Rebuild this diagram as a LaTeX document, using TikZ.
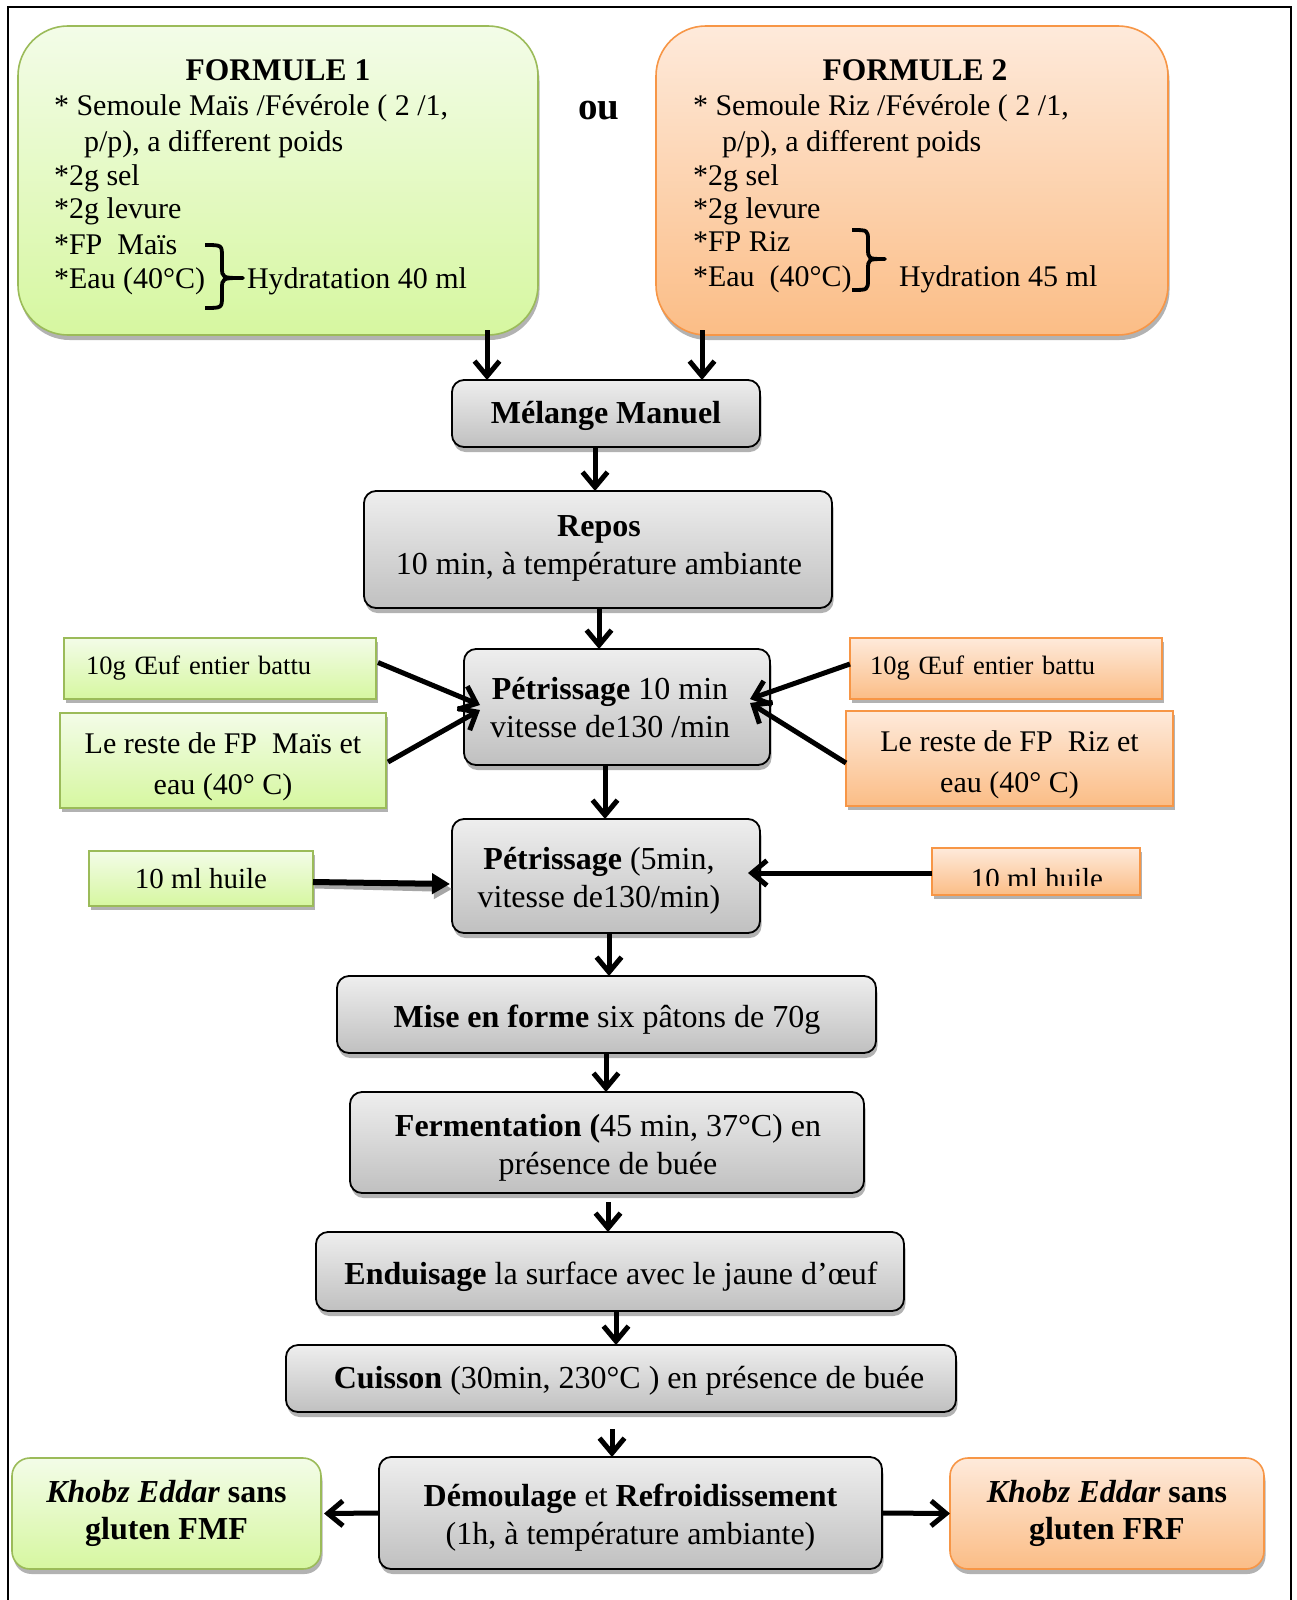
\documentclass[tikz,border=0pt]{standalone}
\usepackage{fontspec}
\setmainfont{Liberation Serif}
\usetikzlibrary{arrows.meta,shadows,calc}

\definecolor{grnTop}{HTML}{F3FCE8}
\definecolor{grnBot}{HTML}{D6F7A0}
\definecolor{grnLine}{HTML}{9BBB59}
\definecolor{orgTop}{HTML}{FEEADB}
\definecolor{orgBot}{HTML}{FBBD86}
\definecolor{orgLine}{HTML}{F79646}
\definecolor{gryTop}{HTML}{EEEEEE}
\definecolor{gryBot}{HTML}{C0C0C0}

\begin{document}
\begin{tikzpicture}[x=1pt,y=-1pt,
  every node/.style={inner sep=0pt, outer sep=0pt},
  softshadow/.style={drop shadow={shadow xshift=1.5pt, shadow yshift=-5pt, opacity=0.3, fill=black}},
  formbox/.style={line width=1.6pt, rounded corners=50pt, softshadow},
  grnform/.style={formbox, draw=grnLine, top color=grnTop, bottom color=grnBot},
  orgform/.style={formbox, draw=orgLine, top color=orgTop, bottom color=orgBot},
  ftxt/.style={font=\fontsize{30}{35}\selectfont, anchor=mid west},
  ttl/.style={font=\fontsize{31.5}{36}\selectfont\bfseries},
  proc/.style={draw=black, line width=1.8pt, rounded corners=12pt, top color=gryTop, bottom color=gryBot, softshadow},
  ptxt/.style={font=\fontsize{32}{38}\selectfont, align=center},
  sidebox/.style={line width=1.6pt, drop shadow={shadow xshift=1.5pt, shadow yshift=-4pt, opacity=0.3, fill=black}},
  grnside/.style={sidebox, draw=grnLine, top color=grnTop, bottom color=grnBot},
  orgside/.style={sidebox, draw=orgLine, top color=orgTop, bottom color=orgBot},
  rtxt/.style={font=\fontsize{30}{41}\selectfont, align=center},
  endbox/.style={line width=1.6pt, rounded corners=18pt, softshadow, font=\fontsize{32}{37}\selectfont, align=center},
  arr/.style={line width=5pt, -{Straight Barb[length=15pt,width=25pt]}},
  bracestroke/.style={line width=3.8pt, line join=round}
]
% page and frame
\fill[white] (0,0) rectangle (1297,1600);
\useasboundingbox (0,0) rectangle (1297,1600);
\draw[line width=2pt] (8,1610) -- (8,7) -- (1291,7) -- (1291,1610);

% ---------- the two formulas ----------
\node[grnform, minimum width=520pt, minimum height=309pt] (f1) at (278,180.5) {};
\node[ttl] (f1t) at (278,70) {FORMULE 1};
\node[ftxt] (f1a) at (54,113) {* Semoule Maïs /Févérole ( 2 /1,};
\node[ftxt] (f1b) at (84,149) {p/p), a different poids};
\node[ftxt] (f1c) at (54,183) {*2g sel};
\node[ftxt] (f1d) at (54,216) {*2g levure};
\node[ftxt] (f1e) at (54,252) {*FP\ \ Maïs};
\node[ftxt] (f1f) at (54,286) {*Eau (40°C)};
\node[ftxt] (f1h) at (247,286) {Hydratation 40 ml};
\draw[bracestroke] (205,245) .. controls (222,245) .. (222,257) -- (222,267)
  .. controls (222,278) .. (243,278) .. controls (222,278) .. (222,289)
  -- (222,296) .. controls (222,308) .. (205,308);

\node[font=\fontsize{39}{40}\selectfont\bfseries] (ou) at (599,111) {ou};

\node[orgform, minimum width=512pt, minimum height=309pt] (f2) at (912,180.5) {};
\node[ttl] (f2t) at (915,70) {FORMULE 2};
\node[ftxt] (f2a) at (693,113) {* Semoule Riz /Févérole ( 2 /1,};
\node[ftxt] (f2b) at (722,149) {p/p), a different poids};
\node[ftxt] (f2c) at (693,183) {*2g sel};
\node[ftxt] (f2d) at (693,216) {*2g levure};
\node[ftxt] (f2e) at (693,249) {*FP Riz};
\node[ftxt] (f2f) at (693,284) {*Eau\ \ (40°C)};
\node[ftxt] (f2h) at (899,284) {Hydration 45 ml};
\draw[bracestroke] (852,230) .. controls (868,230) .. (868,241) -- (868,248)
  .. controls (868,259) .. (885,259) .. controls (868,259) .. (868,270)
  -- (868,279) .. controls (868,290) .. (852,290);

% ---------- main process ----------
\node[proc, minimum width=308pt, minimum height=67pt] (mel) at (606,413.5) {};
\node[ptxt] (melt) at (606,415.5) {\textbf{Mélange Manuel}};
\node[proc, minimum width=468pt, minimum height=117pt] (rep) at (598,549.5) {};
\node[ptxt] (rept) at (599,548) {\textbf{Repos}\\10 min, à température ambiante};
\node[proc, minimum width=306pt, minimum height=116pt] (pet1) at (617,707) {};
\node[ptxt] (pet1t) at (610,708) {\textbf{Pétrissage} 10 min\\vitesse de130 /min};
\node[proc, minimum width=308pt, minimum height=114pt] (pet2) at (606,876) {};
\node[ptxt] (pet2t) at (599,881) {\textbf{Pétrissage} (5min,\\vitesse de130/min)};
\node[proc, minimum width=539pt, minimum height=77pt] (mise) at (606.5,1014.5) {};
\node[ptxt] (miset) at (607,1020) {\textbf{Mise en forme} six pâtons de 70g};
\node[proc, minimum width=514pt, minimum height=101pt] (ferm) at (607,1142.5) {};
\node[ptxt] (fermt) at (608,1147.5) {\textbf{Fermentation (}45 min, 37°C) en\\présence de buée};
\node[proc, minimum width=588pt, minimum height=79pt] (endu) at (610,1271.5) {};
\node[ptxt] (endut) at (611,1276.5) {\textbf{Enduisage} la surface avec le jaune d’œuf};
\node[proc, minimum width=670pt, minimum height=67pt] (cuis) at (621,1378.5) {};
\node[ptxt] (cuist) at (629,1381) {\textbf{Cuisson} (30min, 230°C ) en présence de buée};
\node[proc, minimum width=503pt, minimum height=112pt] (dem) at (630.5,1513) {};
\node[ptxt] (demt) at (630.5,1518) {\textbf{Démoulage} et \textbf{Refroidissement}\\(1h, à température ambiante)};

% ---------- side ingredients ----------
\node[grnside, minimum width=312pt, minimum height=61pt, text width=268pt, align=left,
  font=\fontsize{26.5}{30}\selectfont] (goeuf) at (220,668.5) {10g Œuf entier battu};
\node[grnside, minimum width=326pt, minimum height=95pt] (greste) at (223,760.5) {};
\node[rtxt] (grestet) at (223,766.5) {Le reste de FP\ \ Maïs et\\eau (40° C)};
\node[grnside, minimum width=224pt, minimum height=55pt,
  font=\fontsize{29}{33}\selectfont] (ghuile) at (201,878.5) {10 ml huile};

\node[orgside, minimum width=312pt, minimum height=61pt, text width=272pt, align=left,
  font=\fontsize{26.5}{30}\selectfont] (ooeuf) at (1006,668.5) {10g Œuf entier battu};
\node[orgside, minimum width=327pt, minimum height=95pt] (oreste) at (1009.5,758.5) {};
\node[rtxt] (orestet) at (1009.5,765) {Le reste de FP\ \ Riz et\\eau (40° C)};
\node[orgside, minimum width=208pt, minimum height=47pt] (ohuile) at (1036,871.5) {};
\begin{scope}
  \clip (933,849) rectangle (1139,885);
  \node[anchor=base, font=\fontsize{29}{33}\selectfont] (ohuiletxt) at (1037,888) {10 ml huile};
\end{scope}

% ---------- final products ----------
\node[endbox, draw=grnLine, top color=grnTop, bottom color=grnBot, minimum width=309pt, minimum height=111pt]
  (gkhobz) at (166.5,1513.5) {\textbf{\textit{Khobz Eddar}} \textbf{sans}\\\textbf{gluten FMF}};
\node[endbox, draw=orgLine, top color=orgTop, bottom color=orgBot, minimum width=314pt, minimum height=111pt]
  (okhobz) at (1107,1513.5) {\textbf{\textit{Khobz Eddar}} \textbf{sans}\\\textbf{gluten FRF}};

% ---------- connectors ----------
\draw[arr] ($(f1.south east)+(-51,-5)$) -- ($(mel.north west)+(35,0)$);
\draw[arr] ($(f2.south west)+(46,-5)$) -- ($(mel.north east)+(-58,0)$);
\draw[arr] ($(mel.south)+(-11,0)$) -- ($(rep.north)+(-3,0)$);
\draw[arr] ($(rep.south)+(1,0)$) -- ($(pet1.north)+(-18,0)$);
\draw[arr] ($(pet1.south)+(-12,0)$) -- ($(pet2.north)+(-1,0)$);
\draw[arr] ($(pet2.south)+(3,0)$) -- ($(mise.north)+(2.5,0)$);
\draw[arr] ($(mise.south)+(-0.5,0)$) -- ($(ferm.north)+(-1,0)$);
\draw[arr] ($(ferm.south)+(1,9)$) -- ($(endu.north)+(-2,0)$);
\draw[arr] ($(endu.south)+(6,0)$) -- ($(cuis.north)+(-5,0)$);
\draw[arr] ($(cuis.south)+(-9,17)$) -- ($(dem.north)+(-18.5,0)$);
\draw[arr] (dem.west) -- ($(gkhobz.east)+(3,0)$);
\draw[arr] (dem.east) -- (okhobz.west);

\draw[arr] ($(goeuf.east)+(2,-6)$) -- ($(pet1.west)+(16,-2)$);
\draw[arr] ($(greste.east)+(2,1.5)$) -- ($(pet1.west)+(16,3)$);
\draw[arr] ($(ooeuf.west)+(0,-4.5)$) -- ($(pet1.east)+(-20,-8)$);
\draw[arr] ($(oreste.west)+(0,4.5)$) -- ($(pet1.east)+(-20,-4)$);

\draw[line width=6pt, gray!70, -{Triangle[length=18pt,width=20pt]}] ($(ghuile.east)+(2,7)$) -- ($(pet2.west)+(0,13)$);
\draw[line width=6pt, -{Triangle[length=18pt,width=20pt]}] ($(ghuile.east)+(0,3.5)$) -- ($(pet2.west)+(-2,8)$);
\draw[arr] ($(ohuile.west)+(0,1.5)$) -- ($(pet2.east)+(-12,-3)$);
\end{tikzpicture}
\end{document}
